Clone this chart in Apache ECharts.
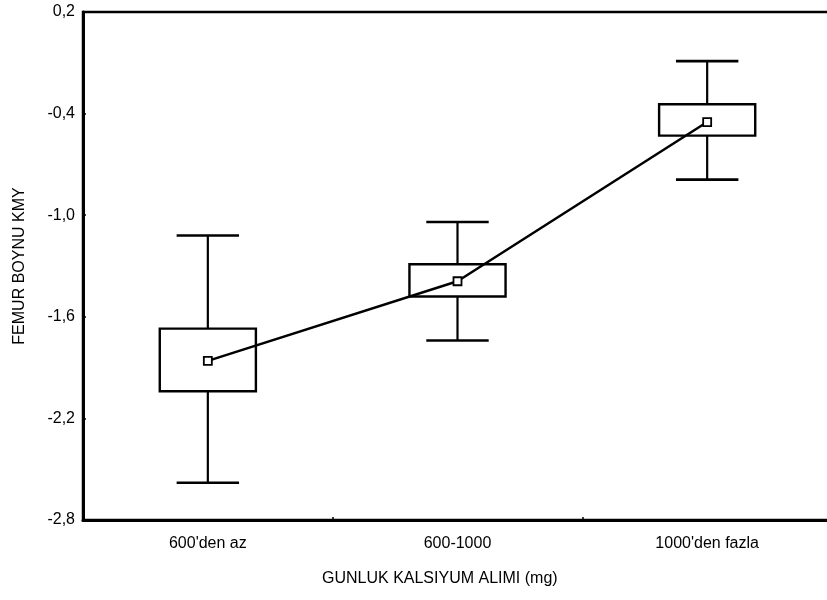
<!DOCTYPE html>
<html>
<head>
<meta charset="utf-8">
<script src="https://cdn.jsdelivr.net/npm/echarts@6/dist/echarts.min.js"></script>
<style>
  html, body { margin: 0; padding: 0; background: #fff; }
  #chart { width: 827px; height: 600px; }
</style>
</head>
<body>
<div id="chart"></div>
<script>
// Daily calcium intake groups
const categories = ["600'den az", "600-1000", "1000'den fazla"];
// Femoral neck BMD: group means
const means = [-1.86, -1.39, -0.45];
// Box edges (lower / upper)
const boxLow = [-2.04, -1.48, -0.53];
const boxHigh = [-1.67, -1.29, -0.345];
// Whisker ends (lower / upper)
const whiskerLow = [-2.58, -1.74, -0.79];
const whiskerHigh = [-1.12, -1.04, -0.09];
// Y axis tick values and their labels
const yTicks = [-2.8, -2.2, -1.6, -1.0, -0.4, 0.2];
const yTickLabels = ['-2,8', '-2,2', '-1,6', '-1,0', '-0,4', '0,2'];

const FONT = '"Liberation Sans", Arial, sans-serif';

const chart = echarts.init(document.getElementById('chart'), null, { renderer: 'canvas' });

const boxData = categories.map((c, i) => [i, whiskerLow[i], boxLow[i], boxHigh[i], whiskerHigh[i]]);

function renderBox(params, api) {
  const x = api.value(0);
  const pWL = api.coord([x, api.value(1)]);
  const pBL = api.coord([x, api.value(2)]);
  const pBH = api.coord([x, api.value(3)]);
  const pWH = api.coord([x, api.value(4)]);
  const band = api.size([1, 0])[0];
  const boxW = band * 0.385;
  const capW = band * 0.25;
  const cx = pWL[0];
  const stroke = { stroke: '#000', lineWidth: 2.2, fill: null };
  return {
    type: 'group',
    children: [
      { type: 'line', shape: { x1: cx, y1: pWH[1], x2: cx, y2: pBH[1] }, style: stroke },
      { type: 'line', shape: { x1: cx, y1: pBL[1], x2: cx, y2: pWL[1] }, style: stroke },
      { type: 'line', shape: { x1: cx - capW / 2, y1: pWH[1], x2: cx + capW / 2, y2: pWH[1] }, style: { stroke: '#000', lineWidth: 2.6 } },
      { type: 'line', shape: { x1: cx - capW / 2, y1: pWL[1], x2: cx + capW / 2, y2: pWL[1] }, style: { stroke: '#000', lineWidth: 2.6 } },
      { type: 'rect', shape: { x: cx - boxW / 2, y: pBH[1], width: boxW, height: pBL[1] - pBH[1] },
        style: { stroke: '#000', lineWidth: 2.4, fill: 'rgba(255,255,255,0)' } }
    ]
  };
}

chart.setOption({
  animation: false,
  backgroundColor: '#fff',
  grid: {
    left: 83, top: 12, width: 749, height: 508,
    outerBoundsMode: 'none',
    containLabel: false,
    show: true, borderColor: '#000', borderWidth: 2.5, backgroundColor: 'transparent'
  },
  xAxis: {
    type: 'category',
    data: categories,
    boundaryGap: true,
    axisLine: { show: true, onZero: false, lineStyle: { color: '#000', width: 3 } },
    axisTick: { show: true, inside: true, length: 3, lineStyle: { color: '#000', width: 1.5 } },
    axisLabel: { color: '#000', fontFamily: FONT, fontSize: 16, margin: 16 },
    splitLine: { show: false }
  },
  yAxis: {
    type: 'value',
    min: -2.8,
    max: 0.2,
    name: 'FEMUR BOYNU KMY',
    nameLocation: 'middle',
    nameGap: 55,
    nameRotate: 90,
    nameTextStyle: { color: '#000', fontFamily: FONT, fontSize: 16 },
    axisLine: { show: true, onZero: false, lineStyle: { color: '#000', width: 3 } },
    axisTick: { show: true, inside: true, length: 3, customValues: yTicks, lineStyle: { color: '#000', width: 1.5 } },
    axisLabel: {
      color: '#000', fontFamily: FONT, fontSize: 16, margin: 8,
      padding: [4, 0, 0, 0],
      customValues: yTicks,
      formatter: (v) => {
        const idx = yTicks.findIndex(t => Math.abs(t - v) < 1e-6);
        return idx >= 0 ? yTickLabels[idx] : '';
      }
    },
    splitLine: { show: false }
  },
  graphic: [{
    type: 'text',
    left: 322,
    top: 571,
    style: { text: 'GUNLUK KALSIYUM ALIMI (mg)', fill: '#000', font: '16px ' + FONT }
  }],
  series: [
    {
      type: 'custom',
      renderItem: renderBox,
      data: boxData,
      encode: { x: 0, y: [1, 2, 3, 4] },
      z: 2
    },
    {
      type: 'line',
      data: means,
      symbol: 'rect',
      symbolSize: 8,
      showSymbol: true,
      lineStyle: { color: '#000', width: 2.5 },
      itemStyle: { color: '#fff', borderColor: '#000', borderWidth: 1.8 },
      z: 3
    }
  ]
});
</script>
</body>
</html>
